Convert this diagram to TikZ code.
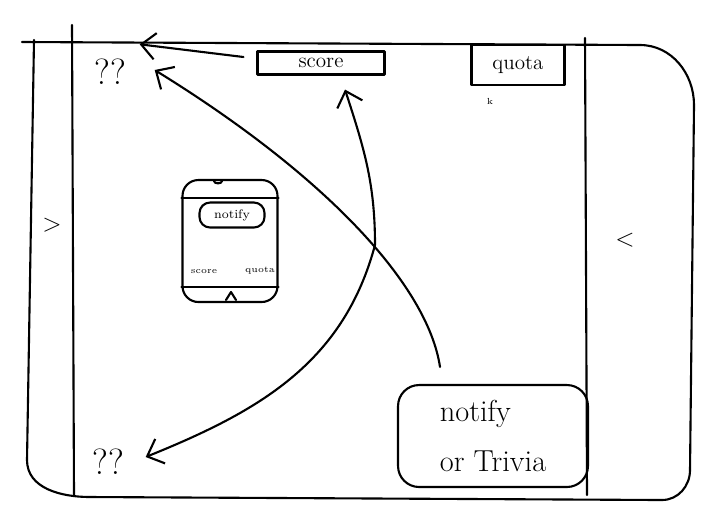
\documentclass[tikz,border=0pt]{standalone}
\usepackage{amsmath,amssymb}
\usepackage{tikz}
\usetikzlibrary{arrows.meta}

\begin{document}
\begin{tikzpicture}[x=0.02cm, y=-0.02cm, line width=1.2pt, line cap=round, line join=round,
	box/.style = {draw, minimum width=#1, inner sep=0pt},
	arr/.style = {-{Straight Barb[length=8pt,width=15pt,line width=1.2pt]}},
	qmark/.style = {font=\huge}]
	\useasboundingbox (0,0) rectangle (705,529);
	\draw (22,42) -- (640,45) to[out=0,in=90] (694,105) -- (690,470) to[out=-90,in=0] (662,500) -- (90,497) to[out=180,in=-90] (27,460) -- (34,40);
	\draw (72,25) -- (74,495);
	\draw (585,38) -- (587,495);
	\node[box=2.54cm, minimum height=0.46cm] (score) at (321,63) {\large score};
	\node[box=1.86cm, minimum height=0.8cm] (quota) at (518,65) {\large quota};
	\node[font=\tiny] (k) at (490,101) {k};
	\node[qmark] (topq) at (110,72) {??};
	\node[qmark] (botq) at (108,462) {??};
	\node[font=\Large] (lft) at (52,225) {>};
	\node[font=\Large] (rgt) at (625,240) {<};
	\node[draw, rounded corners=12pt, minimum width=3.8cm, minimum height=2.04cm, align=left, font=\LARGE] (notif) at (493,436) {notify\\[6pt] or Trivia};
	\node[draw, rounded corners=9pt, minimum width=1.9cm, minimum height=2.44cm] (phone) at (230,241) {};
	\draw (phone.west |- 0,198) -- (phone.east |- 0,198);
	\draw (phone.west |- 0,287) -- (phone.east |- 0,287);
	\draw (214,181) to[out=-90,in=-90] (222,181);
	\draw (226,300) -- (231,292) -- (236,300);
	\node[draw, rounded corners=6pt, minimum width=1.3cm, minimum height=0.5cm, font=\scriptsize] (pnotif) at (232,215) {notify};
	\node[font=\tiny] (pscore) at (204,272) {score};
	\node[font=\tiny] (pquota) at (260,271) {quota};
	\coordinate (cross) at (375,245);
	\draw[arr] ([shift={(-13,-6)}]score.west) -- ([shift={(7,-8)}]topq.north east);
	\draw[arr] ([shift={(-53,-17)}]notif.north) .. controls +(-12,-80) and +(175,108) .. ([shift={(22,-2)}]topq.east);
	\draw[arr] (cross) to[out=90,in=-72] ([shift={(24,14)}]score.south);
	\draw[arr] (cross) to[out=-105,in=22] ([shift={(15,-5)}]botq.east);
\end{tikzpicture}
\end{document}
